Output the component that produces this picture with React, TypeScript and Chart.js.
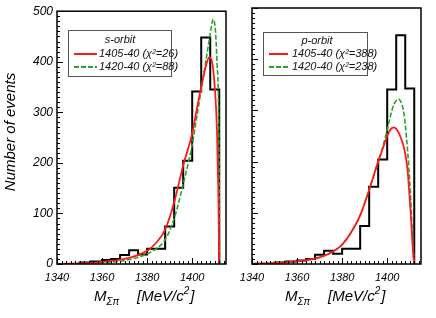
import React, { useEffect, useRef } from 'react';
import { Chart, registerables } from 'chart.js';
Chart.register(...registerables);

// ---- data ----
const xTicks = [1340, 1360, 1380, 1400];
const yTicks = [0, 100, 200, 300, 400, 500];
const binEdges = [1350, 1355, 1360, 1364, 1368, 1372, 1376, 1380, 1384, 1388, 1392, 1396, 1400, 1404, 1408, 1412];
const sCounts = [3, 5, 8, 10, 18, 27, 19, 30, 30, 74, 151, 204, 341, 448, 345];
const pCounts = [3, 5, 7, 10, 18, 26, 20, 30, 30, 74, 151, 204, 341, 447, 343];

const sRedX = [1340, 1345, 1350, 1355, 1360, 1365, 1370, 1375, 1380, 1384, 1388, 1392, 1396, 1400, 1402, 1404, 1406, 1407.6, 1409, 1410, 1411, 1411.6, 1412];
const sRedY = [0.3, 0.6, 1, 2, 4, 6.5, 10, 16, 26, 42, 68, 122, 195, 258, 305, 350, 390, 409, 395, 350, 265, 140, 0];
const sGreenX = [1340, 1345, 1350, 1355, 1360, 1365, 1370, 1375, 1380, 1384, 1388, 1392, 1396, 1400, 1402, 1404, 1406, 1408, 1409.3, 1410.3, 1411, 1411.7, 1412.2];
const sGreenY = [0.2, 0.4, 0.7, 1.2, 2.5, 4, 7, 12, 20, 30, 48, 90, 158, 236, 290, 345, 400, 455, 484, 462, 400, 300, 0];

const pRedX = [1340, 1345, 1350, 1355, 1360, 1365, 1370, 1375, 1380, 1384, 1388, 1392, 1396, 1398, 1400, 1401.5, 1403, 1404.5, 1406, 1407.5, 1409, 1410.4, 1411.6, 1412];
const pRedY = [0.5, 1, 2, 3, 5, 8, 13, 22, 38, 62, 95, 145, 200, 225, 250, 263, 267, 261, 247, 226, 185, 100, 15, 0];
const pGreenX = [1340, 1345, 1350, 1355, 1360, 1365, 1370, 1375, 1380, 1384, 1388, 1392, 1396, 1398, 1400, 1401.5, 1403, 1405, 1406.5, 1407.5, 1408.6, 1409.5, 1410.4, 1411.1, 1412];
const pGreenY = [0.5, 1, 2, 3, 5, 8, 13, 22, 38, 62, 95, 145, 200, 228, 262, 290, 312, 322, 312, 292, 245, 195, 131, 66, 0];

const sLegend = ['s-orbit', '1405-40 (χ²=26)', '1420-40 (χ²=88)'];
const pLegend = ['p-orbit', '1405-40 (χ²=388)', '1420-40 (χ²=238)'];

const RED = '#ff1a1a';
const GREEN = '#2aa52a';
const FONT = '"Liberation Sans", Arial, sans-serif';

function histPoints(edges: number[], counts: number[]) {
  const pts: { x: number; y: number }[] = [{ x: edges[0], y: 0 }];
  counts.forEach((c, i) => pts.push({ x: edges[i], y: c }));
  pts.push({ x: edges[edges.length - 1], y: counts[counts.length - 1] });
  pts.push({ x: edges[edges.length - 1], y: 0 });
  return pts;
}
function zipPts(xs: number[], ys: number[]) {
  return xs.map((x, i) => ({ x, y: ys[i] }));
}

const panelPlugin = {
  id: 'panel',
  afterDatasetsDraw(chart: any, _a: any, opts: any) {
    const ctx = chart.ctx;
    const { left, right, top, bottom } = chart.chartArea;
    const xs = chart.scales.x;
    const ys = chart.scales.y;
    ctx.save();
    ctx.strokeStyle = '#000';
    ctx.lineWidth = 1;
    for (let v = 1340; v <= 1415; v += 2) {
      const px = Math.round(xs.getPixelForValue(v)) + 0.5;
      const len = v % 20 === 0 ? 6 : 3;
      ctx.beginPath();
      ctx.moveTo(px, bottom);
      ctx.lineTo(px, bottom - len);
      ctx.stroke();
    }
    for (let v = 0; v <= 500; v += 10) {
      const py = Math.round(ys.getPixelForValue(v)) + 0.5;
      const len = v % 100 === 0 ? 6 : 3;
      ctx.beginPath();
      ctx.moveTo(left, py);
      ctx.lineTo(left + len, py);
      ctx.stroke();
    }
    ctx.lineWidth = 1.5;
    ctx.strokeRect(left, top, right - left, bottom - top);
    ctx.restore();
  },
  afterDraw(chart: any, _a: any, opts: any) {
    const ctx = chart.ctx;
    ctx.save();
    const L = opts.legend;
    const lg = opts.legendText as string[];
    ctx.fillStyle = '#fff';
    ctx.fillRect(L.x, L.y, L.w, L.h);
    ctx.strokeStyle = '#555';
    ctx.lineWidth = 1;
    ctx.strokeRect(L.x + 0.5, L.y + 0.5, L.w, L.h);
    ctx.fillStyle = '#111';
    ctx.font = `italic 11px ${FONT}`;
    ctx.textBaseline = 'middle';
    ctx.textAlign = 'center';
    ctx.fillText(lg[0], L.titleX, L.titleY);
    ctx.textAlign = 'left';
    ctx.lineWidth = 2;
    ctx.strokeStyle = RED;
    ctx.beginPath();
    ctx.moveTo(L.lineX0, L.row1);
    ctx.lineTo(L.lineX1, L.row1);
    ctx.stroke();
    ctx.fillText(lg[1], L.textX, L.row1);
    ctx.strokeStyle = GREEN;
    ctx.setLineDash([5, 2]);
    ctx.beginPath();
    ctx.moveTo(L.lineX0, L.row2);
    ctx.lineTo(L.lineX1, L.row2);
    ctx.stroke();
    ctx.setLineDash([]);
    ctx.fillText(lg[2], L.textX, L.row2);

    ctx.fillStyle = '#000';
    ctx.textBaseline = 'alphabetic';
    ctx.font = `italic 15px ${FONT}`;
    const mx = opts.titleM;
    ctx.fillText('M', mx, 301);
    const wM = ctx.measureText('M').width;
    ctx.font = `italic 10px ${FONT}`;
    ctx.fillText('Σπ', mx + wM, 305);
    ctx.font = `italic 15px ${FONT}`;
    const bx = opts.titleB;
    ctx.fillText('[MeV/c', bx, 301);
    const wB = ctx.measureText('[MeV/c').width;
    ctx.font = `italic 10px ${FONT}`;
    ctx.fillText('2', bx + wB, 294);
    const w2 = ctx.measureText('2').width;
    ctx.font = `italic 15px ${FONT}`;
    ctx.fillText(']', bx + wB + w2 + 1, 301);

    if (opts.yTitle) {
      ctx.translate(15, 132);
      ctx.rotate(-Math.PI / 2);
      ctx.textAlign = 'center';
      ctx.font = `italic 15px ${FONT}`;
      ctx.fillText(opts.yTitle, 0, 0);
    }
    ctx.restore();
  },
};

function makeConfig(panel: 'left' | 'right'): any {
  const isLeft = panel === 'left';
  const counts = isLeft ? sCounts : pCounts;
  const red = isLeft ? zipPts(sRedX, sRedY) : zipPts(pRedX, pRedY);
  const green = isLeft ? zipPts(sGreenX, sGreenY) : zipPts(pGreenX, pGreenY);
  return {
    type: 'line',
    data: {
      datasets: [
        { data: red, borderColor: RED, borderWidth: 1.8, pointRadius: 0, cubicInterpolationMode: 'monotone', order: 1 },
        { data: green, borderColor: GREEN, borderWidth: 1.6, borderDash: [5, 2], pointRadius: 0, cubicInterpolationMode: 'monotone', order: 2 },
        { data: histPoints(binEdges, counts), borderColor: '#000', borderWidth: 2, pointRadius: 0, stepped: 'before', order: 3 },
      ],
    },
    options: {
      animation: false,
      responsive: false,
      events: [],
      layout: { padding: { left: 0, right: isLeft ? 210 : 15, top: 8, bottom: 0 } },
      plugins: {
        legend: { display: false },
        tooltip: { enabled: false },
        panel: isLeft
          ? {
              legendText: sLegend,
              legend: { x: 68, y: 30, w: 103, h: 46, titleX: 120, titleY: 40, row1: 54, row2: 67, lineX0: 74, lineX1: 97, textX: 99 },
              titleM: 94,
              titleB: 137,
              yTitle: 'Number of events',
            }
          : {
              legendText: pLegend,
              legend: { x: 263, y: 32, w: 104, h: 43, titleX: 317, titleY: 41, row1: 54, row2: 67, lineX0: 269, lineX1: 288, textX: 292 },
              titleM: 285,
              titleB: 328,
              yTitle: null,
            },
      },
      scales: {
        x: {
          type: 'linear',
          min: 1340,
          max: 1415,
          afterBuildTicks: (s: any) => {
            s.ticks = xTicks.map((v) => ({ value: v }));
          },
          afterFit: (s: any) => {
            s.height = 54;
          },
          grid: { display: false, drawTicks: false },
          border: { display: false },
          ticks: {
            padding: 7,
            color: '#000',
            maxRotation: 0,
            autoSkip: false,
            font: { family: FONT, size: 11, style: 'italic' },
            callback: (v: any) => String(v),
          },
        },
        y: {
          type: 'linear',
          min: 0,
          max: 500,
          afterBuildTicks: (s: any) => {
            s.ticks = yTicks.map((v) => ({ value: v }));
          },
          afterFit: (s: any) => {
            s.width = isLeft ? 57 : 252;
          },
          grid: { display: false, drawTicks: false },
          border: { display: false },
          ticks: {
            display: isLeft,
            padding: 4,
            color: '#000',
            font: { family: FONT, size: 12, style: 'italic' },
            callback: (v: any) => String(v),
          },
        },
      },
    },
    plugins: [panelPlugin],
  };
}

export default function App() {
  const leftRef = useRef<HTMLCanvasElement>(null);
  const rightRef = useRef<HTMLCanvasElement>(null);
  useEffect(() => {
    document.body.style.margin = '0';
    const c1 = new Chart(leftRef.current!, makeConfig('left'));
    const c2 = new Chart(rightRef.current!, makeConfig('right'));
    return () => {
      c1.destroy();
      c2.destroy();
    };
  }, []);
  const st: React.CSSProperties = { position: 'absolute', left: 0, top: 0, width: 436, height: 318 };
  return (
    <div style={{ position: 'relative', width: 436, height: 318, background: '#fff' }}>
      <canvas ref={leftRef} width={436} height={318} style={st} />
      <canvas ref={rightRef} width={436} height={318} style={st} />
    </div>
  );
}
